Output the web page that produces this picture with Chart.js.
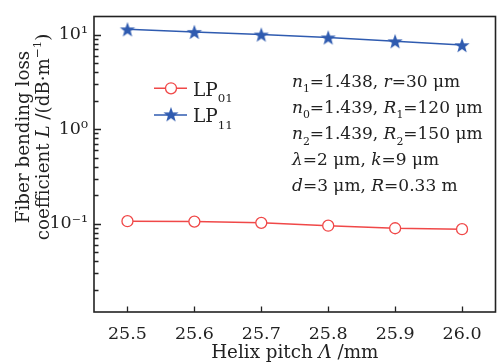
<!DOCTYPE html>
<html>
<head>
<meta charset="utf-8">
<script src="https://cdn.jsdelivr.net/npm/chart.js@4.4.0/dist/chart.umd.min.js"></script>
<style>
html, body { margin: 0; padding: 0; background: #fff; overflow: hidden; }
#wrap { width: 505px; height: 364px; }
</style>
</head>
<body>
<div id="wrap"><canvas id="chartLoss" width="505" height="364"></canvas></div>
<script>
// data
const pitch = [25.5, 25.6, 25.7, 25.8, 25.9, 26.0];
const lossLP01 = [0.1065, 0.1055, 0.1023, 0.0955, 0.0898, 0.0877];
const lossLP11 = [11.35, 10.65, 10.0, 9.32, 8.49, 7.73];
const seriesNames = ['LP01', 'LP11'];

const xTickValues = [25.5, 25.6, 25.7, 25.8, 25.9, 26.0];
const yMajorTicks = [0.1, 1, 10];
const yMajorLabels = ['10⁻¹', '10⁰', '10¹'];
const yMinorTicks = [0.02, 0.03, 0.04, 0.05, 0.06, 0.07, 0.08, 0.09,
                     0.2, 0.3, 0.4, 0.5, 0.6, 0.7, 0.8, 0.9,
                     2, 3, 4, 5, 6, 7, 8, 9];

const paramLines = [
    [['n', 'i'], ['1', 'sub'], ['=1.438, ', 'r'], ['r', 'i'], ['=30 μm', 'r']],
    [['n', 'i'], ['0', 'sub'], ['=1.439, ', 'r'], ['R', 'i'], ['1', 'sub'], ['=120 μm', 'r']],
    [['n', 'i'], ['2', 'sub'], ['=1.439, ', 'r'], ['R', 'i'], ['2', 'sub'], ['=150 μm', 'r']],
    [['λ', 'i'], ['=2 μm, ', 'r'], ['k', 'i'], ['=9 μm', 'r']],
    [['d', 'i'], ['=3 μm, ', 'r'], ['R', 'i'], ['=0.33 m', 'r']]
];
const xTitle = [['Helix pitch ', 'r'], ['Λ', 'i'], [' /mm', 'r']];
const yTitle1 = [['Fiber bending loss', 'r']];
const yTitle2 = [['coefficient ', 'r'], ['L', 'i'], [' /(dB·m', 'r'], ['−1', 'sup'], [')', 'r']];

const FONT = '"DejaVu Serif"';
const TICK_FS = 17.5;
const TITLE_FS = 18.3;
const TEXT_FS = 17;
const INK = '#222';
const RED = '#f04848';
const BLUE = '#2f5bb0';

// filled five point star for LP11 markers
function makeStar(color) {
    const c = document.createElement('canvas');
    c.width = 18; c.height = 18;
    const g = c.getContext('2d');
    g.fillStyle = color;
    g.beginPath();
    for (let i = 0; i < 10; i++) {
        const r = i % 2 === 0 ? 8 : 3.3;
        const a = -Math.PI / 2 + i * Math.PI / 5;
        const px = 9 + r * Math.cos(a), py = 9.8 + r * Math.sin(a);
        if (i === 0) g.moveTo(px, py); else g.lineTo(px, py);
    }
    g.closePath();
    g.fill();
    return c;
}
const starImg = makeStar(BLUE);

function setFont(ctx, st, fs) {
    let size = fs, style = '';
    if (st === 'i') style = 'italic ';
    if (st === 'sub' || st === 'sup') size = fs * 0.64;
    ctx.font = style + size + 'px ' + FONT;
}
function richWidth(ctx, parts, fs) {
    let w = 0;
    parts.forEach(p => { setFont(ctx, p[1], fs); w += ctx.measureText(p[0]).width; });
    return w;
}
function drawRich(ctx, parts, x, y, fs) {
    let cx = x;
    parts.forEach(p => {
        setFont(ctx, p[1], fs);
        let dy = 0;
        if (p[1] === 'sub') dy = fs * 0.33;
        if (p[1] === 'sup') dy = -fs * 0.42;
        ctx.fillText(p[0], cx, y + dy);
        cx += ctx.measureText(p[0]).width;
    });
}

const decor = {
    id: 'decor',
    afterDraw(chart) {
        const ctx = chart.ctx;
        const a = chart.chartArea;
        const xs = chart.scales.x, ys = chart.scales.y;
        ctx.save();
        ctx.strokeStyle = INK;
        ctx.lineWidth = 1.6;
        ctx.strokeRect(a.left, a.top, a.right - a.left, a.bottom - a.top);

        // inward tick marks
        ctx.lineWidth = 1.3;
        ctx.beginPath();
        yMinorTicks.concat(yMajorTicks).forEach(v => {
            const py = Math.round(ys.getPixelForValue(v)) + 0.5;
            const len = yMajorTicks.includes(v) ? 7 : 4.5;
            ctx.moveTo(a.left, py);
            ctx.lineTo(a.left + len, py);
        });
        xTickValues.forEach(v => {
            const px = Math.round(xs.getPixelForValue(v)) + 0.5;
            ctx.moveTo(px, a.bottom);
            ctx.lineTo(px, a.bottom - 5.5);
        });
        ctx.stroke();

        ctx.fillStyle = INK;
        ctx.textBaseline = 'alphabetic';
        ctx.textAlign = 'left';

        // x axis title
        const xw = richWidth(ctx, xTitle, TITLE_FS);
        drawRich(ctx, xTitle, (a.left + a.right) / 2 - xw / 2, 358, TITLE_FS);

        // y axis title, two rotated lines
        [[yTitle1, 29], [yTitle2, 49]].forEach(([parts, bx]) => {
            ctx.save();
            ctx.translate(bx, 137);
            ctx.rotate(-Math.PI / 2);
            drawRich(ctx, parts, -richWidth(ctx, parts, TITLE_FS) / 2, 0, TITLE_FS);
            ctx.restore();
        });

        // legend
        chart.data.datasets.forEach((ds, i) => {
            const ly = 88.3 + i * 26.7;
            ctx.strokeStyle = ds.borderColor;
            ctx.lineWidth = 1.5;
            ctx.beginPath();
            ctx.moveTo(154, ly);
            ctx.lineTo(187, ly);
            ctx.stroke();
            if (ds.pointStyle === 'circle') {
                ctx.beginPath();
                ctx.arc(171, ly, ds.pointRadius, 0, Math.PI * 2);
                ctx.fillStyle = '#fff';
                ctx.fill();
                ctx.lineWidth = ds.pointBorderWidth;
                ctx.stroke();
            } else {
                ctx.drawImage(starImg, 171 - 9, ly - 9.8);
            }
            ctx.fillStyle = INK;
            const name = ds.label;
            drawRich(ctx, [[name.slice(0, 2), 'r'], [name.slice(2), 'sub']], 193, ly + 7.4, 18.5);
        });

        // parameter block
        paramLines.forEach((parts, i) => drawRich(ctx, parts, 292, 86.5 + i * 26.2, TEXT_FS));
        ctx.restore();
    }
};

const ctx = document.getElementById('chartLoss').getContext('2d');
const myChart = new Chart(ctx, {
    type: 'line',
    data: {
        labels: pitch,
        datasets: [{
            label: seriesNames[0],
            data: pitch.map((p, i) => ({x: p, y: lossLP01[i]})),
            borderColor: RED,
            backgroundColor: '#fff',
            borderWidth: 1.5,
            pointStyle: 'circle',
            pointRadius: 5.5,
            pointBorderWidth: 1.3,
            pointBorderColor: RED,
            pointBackgroundColor: '#fff'
        }, {
            label: seriesNames[1],
            data: pitch.map((p, i) => ({x: p, y: lossLP11[i]})),
            borderColor: BLUE,
            backgroundColor: BLUE,
            borderWidth: 1.5,
            pointStyle: starImg,
            pointRadius: 8
        }]
    },
    options: {
        responsive: false,
        devicePixelRatio: 1,
        animation: false,
        layout: { padding: { top: 6, right: 1.6, left: 0, bottom: 0 } },
        plugins: { legend: { display: false }, tooltip: { enabled: false } },
        scales: {
            x: {
                type: 'linear',
                min: 25.45,
                max: 26.05,
                grid: { display: false, drawTicks: false },
                border: { display: false },
                afterBuildTicks: s => { s.ticks = xTickValues.map(v => ({value: v})); },
                afterFit: s => { s.height = 52; },
                ticks: {
                    autoSkip: false,
                    maxRotation: 0,
                    padding: 12,
                    color: INK,
                    font: { family: 'DejaVu Serif', size: TICK_FS },
                    callback: v => Number(v).toFixed(1)
                }
            },
            y: {
                type: 'logarithmic',
                min: 0.0117,
                max: 15.5,
                grid: { display: false, drawTicks: false },
                border: { display: false },
                afterBuildTicks: s => {
                    s.ticks = yMinorTicks.concat(yMajorTicks).sort((p, q) => p - q).map(v => ({value: v}));
                },
                afterFit: s => { s.width = 94; },
                ticks: {
                    autoSkip: false,
                    padding: 6,
                    color: INK,
                    font: { family: 'DejaVu Serif', size: TICK_FS },
                    callback: v => {
                        const k = yMajorTicks.indexOf(v);
                        return k >= 0 ? yMajorLabels[k] : '';
                    }
                }
            }
        }
    },
    plugins: [decor]
});
</script>
</body>
</html>
